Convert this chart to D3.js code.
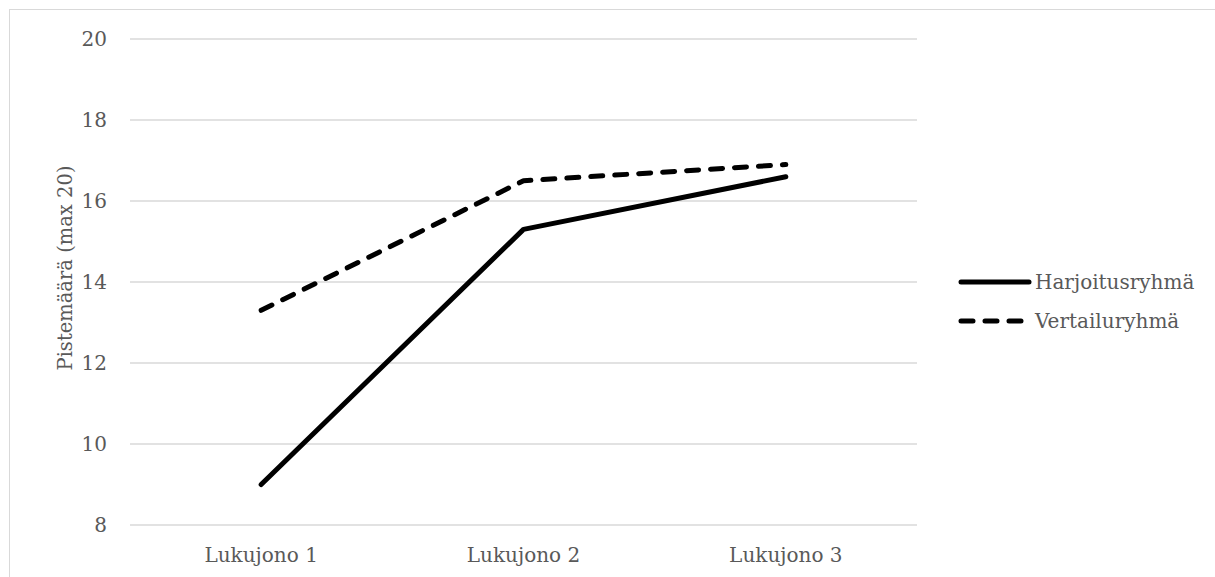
<!DOCTYPE html>
<html>
<head>
<meta charset="utf-8">
<script src="https://cdn.jsdelivr.net/npm/d3@7"></script>
<style>
  body { margin: 0; background: #fff; }
  text { font-family: "DejaVu Serif", serif; fill: #595959; }
</style>
</head>
<body>
<svg id="chart" width="1215" height="577"></svg>
<script>
// Data
let categories = ['Lukujono 1', 'Lukujono 2', 'Lukujono 3'];
let harjoitus = [9.0, 15.3, 16.6];
let vertailu = [13.3, 16.5, 16.9];
let seriesNames = ['Harjoitusryhmä', 'Vertailuryhmä'];
let yTicks = [8, 10, 12, 14, 16, 18, 20];

let svg = d3.select('#chart');

// Outer border
svg.append('rect')
    .attr('x', 9.5).attr('y', 9.5)
    .attr('width', 1215).attr('height', 577)
    .attr('fill', 'none')
    .attr('stroke', '#d9d9d9');

let x = d3.scalePoint()
    .domain(categories)
    .range([130, 917])
    .padding(0.5);

let y = d3.scaleLinear()
    .domain([8, 20])
    .range([525, 39]);

// Gridlines
svg.append('g')
    .selectAll('line')
    .data(yTicks)
    .join('line')
    .attr('x1', 130).attr('x2', 917)
    .attr('y1', d => y(d)).attr('y2', d => y(d))
    .attr('stroke', '#d9d9d9')
    .attr('stroke-width', 1.3);

// Y tick labels
svg.append('g')
    .selectAll('text')
    .data(yTicks)
    .join('text')
    .attr('x', 107)
    .attr('y', d => y(d))
    .attr('dy', '0.35em')
    .attr('text-anchor', 'end')
    .style('font-size', '20px')
    .text(d => d);

// X labels
svg.append('g')
    .selectAll('text')
    .data(categories)
    .join('text')
    .attr('x', d => x(d))
    .attr('y', 562)
    .attr('text-anchor', 'middle')
    .style('font-size', '20px')
    .text(d => d);

// Y axis title
svg.append('text')
    .attr('transform', 'translate(72,268) rotate(-90)')
    .attr('text-anchor', 'middle')
    .style('font-size', '19.5px')
    .text('Pistemäärä (max 20)');

let line = d3.line()
    .x((d, i) => x(categories[i]))
    .y(d => y(d));

svg.append('path')
    .datum(harjoitus)
    .attr('d', line)
    .attr('fill', 'none')
    .attr('stroke', '#000')
    .attr('stroke-width', 5)
    .attr('stroke-linecap', 'round')
    .attr('stroke-linejoin', 'round');

svg.append('path')
    .datum(vertailu)
    .attr('d', line)
    .attr('fill', 'none')
    .attr('stroke', '#000')
    .attr('stroke-width', 5)
    .attr('stroke-linecap', 'round')
    .attr('stroke-linejoin', 'round')
    .attr('stroke-dasharray', '12,12');

// Legend
let legend = svg.append('g');
let legendY = [282, 321];
seriesNames.forEach((name, i) => {
    legend.append('line')
        .attr('x1', 961).attr('x2', 1029)
        .attr('y1', legendY[i]).attr('y2', legendY[i])
        .attr('stroke', '#000')
        .attr('stroke-width', 5)
        .attr('stroke-linecap', 'round')
        .attr('stroke-dasharray', i === 1 ? '12,12' : null);
    legend.append('text')
        .attr('x', 1035)
        .attr('y', legendY[i])
        .attr('dy', '0.35em')
        .style('font-size', '20px')
        .text(name);
});
</script>
</body>
</html>
